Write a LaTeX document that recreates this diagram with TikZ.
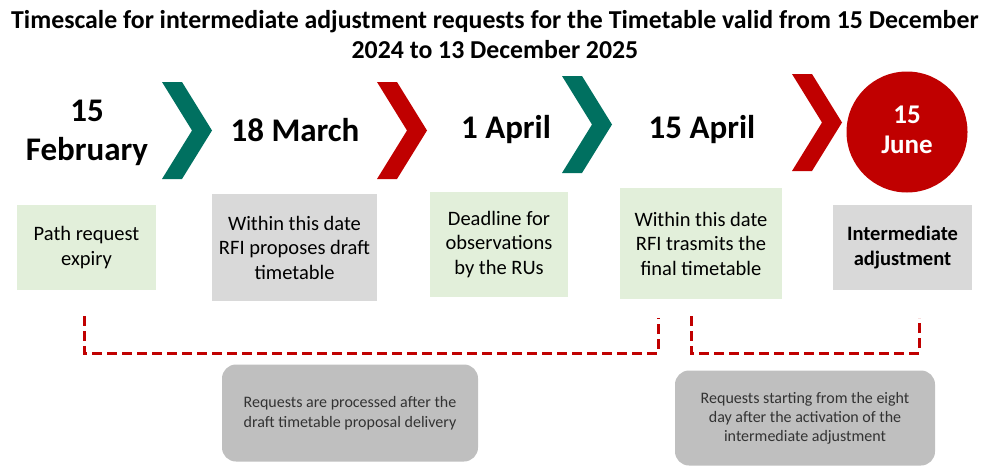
\documentclass[tikz,border=0pt]{standalone}
\usepackage{fontspec}
\setmainfont{Carlito}
\definecolor{rfiteal}{RGB}{0,112,96}
\definecolor{rfired}{RGB}{192,0,0}
\definecolor{boxgreen}{RGB}{226,239,218}
\definecolor{boxgray}{RGB}{217,217,217}
\definecolor{notegray}{RGB}{191,191,191}

\tikzset{
  datetxt/.style={align=center,font=\fontsize{33}{39}\selectfont\bfseries},
  stepbox/.style={align=center,inner sep=0pt,font=\fontsize{20.5}{24.5}\selectfont},
  notebox/.style={fill=notegray,rounded corners=14pt,align=center,inner sep=0pt,
    text=black!80,font=\fontsize{16}{20}\selectfont},
  bracket/.style={draw=rfired,line width=3pt,dash pattern=on 10pt off 5pt},
}

\begin{document}
\begin{tikzpicture}[x=1pt,y=-1pt]
  \useasboundingbox (0,0) rectangle (990,466);

  \node[align=center,font=\fontsize{25.8}{30}\selectfont\bfseries] (title) at (495,35)
    {Timescale for intermediate adjustment requests for the Timetable valid from 15 December\\
     2024 to 13 December 2025};

  % chevrons
  \foreach \x/\y/\c in {162/82/rfiteal,377/82/rfired,562/76/rfiteal,792/74/rfired} {
      \fill[\c] (\x,\y) -- (\x+20,\y) -- (\x+50,\y+48.5) -- (\x+20,\y+97) -- (\x,\y+97) -- (\x+30,\y+48.5) -- cycle;
  }
  \node[circle,fill=rfired,minimum size=121pt,inner sep=0pt] (june) at (907,132) {};
  \node[datetxt,text=white,font=\fontsize{27}{30}\selectfont\bfseries] (junetxt) at (907,130) {15\\June};

  % dates
  \node[datetxt] (feb) at (87,133) {15\\February};
  \node[datetxt] (mar) at (295,130) {18 March};
  \node[datetxt] (apr) at (506,130) {1 April};
  \node[datetxt] (aprb) at (702,130) {15 April};

  % boxes
  \node[stepbox,fill=boxgreen,minimum width=139pt,minimum height=85pt] (expiry) at (86.5,247.5) {Path request\\expiry};
  \node[stepbox,fill=boxgray,minimum width=165pt,minimum height=107pt] (draft) at (294.5,247.5) {Within this date\\RFI proposes draft\\timetable};
  \node[stepbox,fill=boxgreen,minimum width=138pt,minimum height=105pt] (observ) at (499,244.5) {Deadline for\\observations\\by the RUs};
  \node[stepbox,fill=boxgreen,minimum width=162pt,minimum height=111pt] (final) at (701,243.5) {Within this date\\RFI trasmits the\\final timetable};
  \node[stepbox,fill=boxgray,minimum width=139pt,minimum height=85pt,font=\fontsize{20.5}{24.5}\selectfont\bfseries] (adjust) at (902.5,247.5) {Intermediate\\adjustment};

  % brackets
  \draw[bracket] (84,316) -- (84,353) -- (658,353) -- (658,318);
  \draw[bracket] (691,316) -- (691,353) -- (919,353) -- (919,318);

  \node[notebox,minimum width=256pt,minimum height=97pt] (note1) at (350,413)
    {Requests are processed after the\\draft timetable proposal delivery};
  \node[notebox,minimum width=260pt,minimum height=95pt,font=\fontsize{16}{19}\selectfont] (note2) at (805,418)
    {Requests starting from the eight\\day after the activation of the\\intermediate adjustment};
\end{tikzpicture}
\end{document}
